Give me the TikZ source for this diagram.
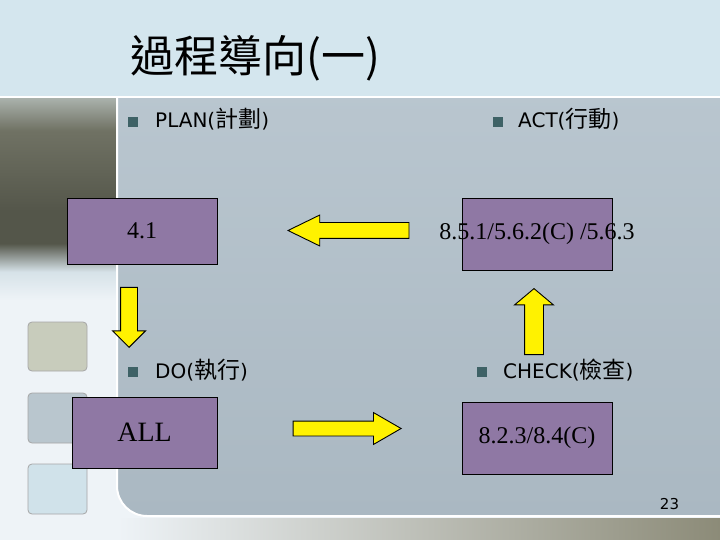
\documentclass[tikz,border=0pt]{standalone}
\usepackage{fontspec}
\setmainfont{Liberation Serif}
\newfontfamily\cjk{Noto Sans CJK TC}
\newfontfamily\labfont{DejaVu Sans}
\usetikzlibrary{shapes.arrows}
\definecolor{titleblue}{RGB}{212,230,238}
\definecolor{pagewhite}{RGB}{238,243,247}
\definecolor{leftdark}{RGB}{84,86,74}
\definecolor{leftmid}{RGB}{112,114,100}
\definecolor{leftlight}{RGB}{214,226,232}
\definecolor{lefttop}{RGB}{170,178,172}
\definecolor{paneltop}{RGB}{186,199,208}
\definecolor{panelbot}{RGB}{170,184,194}
\definecolor{boxpurple}{RGB}{143,120,164}
\definecolor{bulletteal}{RGB}{62,98,102}
\definecolor{sqtan}{RGB}{200,204,188}
\definecolor{sqgrey}{RGB}{185,198,206}
\definecolor{sqblue}{RGB}{208,226,234}
\definecolor{stripdark}{RGB}{140,139,120}
\pgfdeclareverticalshading{leftband}{100bp}{color(0bp)=(pagewhite); color(25bp)=(pagewhite);
  color(32bp)=(leftlight); color(39bp)=(leftdark); color(47bp)=(leftdark);
  color(67bp)=(leftmid); color(75bp)=(lefttop); color(100bp)=(lefttop)}
\newcommand{\lab}[2]{#1({\cjk\fontsize{23bp}{26bp}\selectfont #2})}

\begin{document}
\begin{tikzpicture}[x=1bp, y=-1bp,
  box/.style={draw=black, line width=0.8bp, fill=boxpurple, inner sep=0pt,
    font=\fontsize{24bp}{28bp}\selectfont},
  bullet/.style={fill=bulletteal, minimum size=10bp, inner sep=0pt},
  phase/.style={anchor=base west, inner sep=0pt, font=\labfont\fontsize{20bp}{24bp}\selectfont},
  yarrow/.style={single arrow, draw=black, fill=yellow, line width=0.9bp, inner xsep=0pt,
    minimum width=0pt, single arrow head indent=0pt, anchor=tip},
  square/.style={draw=black!35, line width=0.8bp, rounded corners=4bp}]

  \clip (0,0) rectangle (720,540);

  % background
  \fill[pagewhite] (0,0) rectangle (720,540);
  \shade[shading=leftband] (0,98) rectangle (116,300);
  \shade[top color=paneltop, bottom color=panelbot, draw=white, line width=2bp, rounded corners=30bp]
    (117,60) -- (117,516) -- (760,516) -- (760,60) -- cycle;
  \shade[left color=pagewhite, right color=stripdark] (118,518) rectangle (720,540);
  \fill[titleblue] (0,0) rectangle (720,96);
  \fill[white] (0,96) rectangle (720,98);

  \draw[square, fill=sqtan] (28,322) rectangle (87,371);
  \draw[square, fill=sqgrey] (28,393) rectangle (87,443);
  \draw[square, fill=sqblue] (28,464) rectangle (87,514);

  % title
  \node[anchor=base west, inner sep=0pt, font=\cjk\fontsize{44bp}{50bp}\selectfont] (title)
    at (130,73) {過程導向(一)};

  % phases
  \node[bullet] (bplan) at (133,122) {};
  \node[phase] (plan) at (155,128) {\lab{PLAN}{計劃}};
  \node[bullet] (bact) at (498,122) {};
  \node[phase] (act) at (518,128) {\lab{ACT}{行動}};
  \node[bullet] (bdo) at (133,371.5) {};
  \node[phase] (do) at (155,378) {\lab{DO}{執行}};
  \node[bullet] (bcheck) at (482,371.5) {};
  \node[phase] (check) at (503,378) {\lab{CHECK}{檢查}};

  % clauses
  \node[box, minimum width=150bp, minimum height=66bp] (planbox) at (142,231) {4.1};
  \node[box, minimum width=150bp, minimum height=72bp] (actbox) at (537,234)
    {\makebox[0pt]{8.5.1/5.6.2(C) /5.6.3}};
  \node[box, minimum width=145bp, minimum height=71bp, font=\fontsize{28bp}{32bp}\selectfont]
    (dobox) at (144.5,432.5) {ALL};
  \node[box, minimum width=150bp, minimum height=72bp] (checkbox) at (537,438) {8.2.3/8.4(C)};

  % cycle arrows
  \node[yarrow, rotate=180, minimum height=121bp, inner ysep=7.5bp,
    single arrow head extend=7.5bp, single arrow tip angle=52] (actplan) at (287,230.5) {};
  \node[yarrow, rotate=-90, minimum height=60bp, inner ysep=8bp,
    single arrow head extend=8bp, single arrow tip angle=90] (plando) at (129,348) {};
  \node[yarrow, minimum height=108bp, inner ysep=7bp,
    single arrow head extend=8.5bp, single arrow tip angle=60] (docheck) at (402,428.5) {};
  \node[yarrow, rotate=90, minimum height=66bp, inner ysep=9bp,
    single arrow head extend=10bp, single arrow tip angle=100] (checkact) at (534,288) {};

  \node[inner sep=0pt, font=\labfont\fontsize{15bp}{18bp}\selectfont] (page) at (669.5,504) {23};
\end{tikzpicture}
\end{document}
